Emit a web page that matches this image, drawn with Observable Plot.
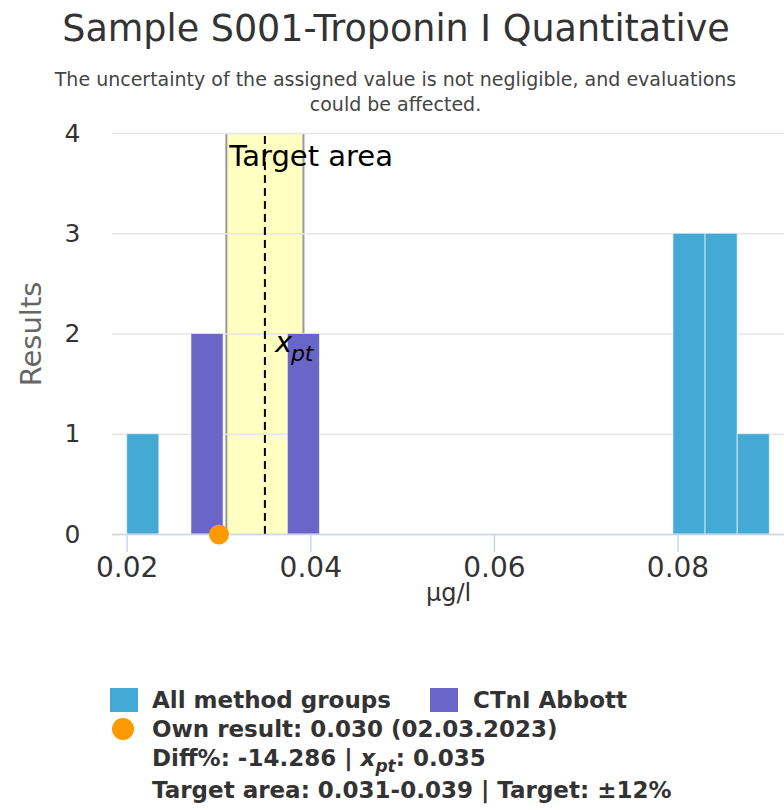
<!DOCTYPE html>
<html>
<head>
<meta charset="utf-8">
<script src="https://cdn.jsdelivr.net/npm/d3@7"></script>
<script src="https://cdn.jsdelivr.net/npm/@observablehq/plot@0.6"></script>
<style>
  body { margin: 0; background: #fff; font-family: "DejaVu Sans", sans-serif; }
  #wrap { position: relative; width: 784px; height: 810px; overflow: hidden; background: #fff; }
  #title { position: absolute; left: 0; top: 11px; width: 792px; text-align: center; font-size: 36.5px; line-height: 36px; color: #333; white-space: nowrap; }
  #subtitle { position: absolute; left: 0; top: 67px; width: 791px; text-align: center; font-size: 19px; line-height: 25px; color: #444; white-space: nowrap; }
  #chart { position: absolute; left: 0; top: 100px; }
  .lg { position: absolute; font-size: 23px; line-height: 23px; font-weight: bold; color: #333; white-space: nowrap; }
  .sw { position: absolute; }
</style>
</head>
<body>
<div id="wrap">
  <div id="title">Sample S001-Troponin I Quantitative</div>
  <div id="subtitle">The uncertainty of the assigned value is not negligible, and evaluations<br>could be affected.</div>
  <div id="chart"></div>
  <div id="legend"></div>
</div>
<script>
// ---- data ----
const allBinStart = [0.0200, 0.0795, 0.0830, 0.0865];
const allBinEnd   = [0.0235, 0.0830, 0.0865, 0.0900];
const allCounts   = [1, 3, 3, 1];

const abbottBinStart = [0.0270, 0.0375];
const abbottBinEnd   = [0.0305, 0.0410];
const abbottCounts   = [2, 2];

const ownResult = 0.030;
const xpt = 0.035;
const targetLow = 0.0308;
const targetHigh = 0.0392;

const xTicks = [0.02, 0.04, 0.06, 0.08];
const yTicks = [0, 1, 2, 3, 4];

const seriesNames = ["All method groups", "CTnI Abbott"];
const seriesColors = ["#45a9d5", "#6a66c8"];
const ownColor = "#ff9900";

// ---- build tables ----
const allBins = allCounts.map((c, i) => ({x1: allBinStart[i], x2: allBinEnd[i], count: c}));
const abbottBins = abbottCounts.map((c, i) => ({x1: abbottBinStart[i], x2: abbottBinEnd[i], count: c}));
const band = [{lo: targetLow, hi: targetHigh}];

const chart = Plot.plot({
  width: 784,
  height: 520,
  marginLeft: 112,
  marginRight: 0,
  marginTop: 33,
  marginBottom: 86,
  style: {fontFamily: '"DejaVu Sans", sans-serif', background: "transparent", overflow: "visible"},
  x: {domain: [0.0184, 0.0916]},
  y: {domain: [0, 4]},
  marks: [
    Plot.rect(band, {x1: "lo", x2: "hi", y1: 0, y2: 4, fill: "#ffffc2"}),
    Plot.ruleX([targetLow, targetHigh], {y1: 0, y2: 4, stroke: "#999", strokeWidth: 2}),
    Plot.gridY(yTicks, {stroke: "#e6e6e6", strokeOpacity: 1, strokeWidth: 1.5}),
    Plot.rect(allBins, {x1: "x1", x2: "x2", y1: 0, y2: "count", fill: seriesColors[0], stroke: "#ffffff", strokeOpacity: 0.6, strokeWidth: 1}),
    Plot.rect(abbottBins, {x1: "x1", x2: "x2", y1: 0, y2: "count", fill: seriesColors[1], stroke: "#ffffff", strokeOpacity: 0.6, strokeWidth: 1}),
    Plot.ruleX([xpt], {y1: 0, y2: 4, stroke: "#000", strokeWidth: 2, strokeDasharray: "8,5"}),
    Plot.ruleY([0], {stroke: "#ccd6eb", strokeWidth: 1.5}),
    Plot.axisX(xTicks, {tickSize: 18, tickPadding: 5, fontSize: 28, stroke: "#ccd6eb", strokeWidth: 1.5, fill: "#333", tickFormat: d => d.toFixed(2), label: null}),
    Plot.axisY(yTicks, {tickSize: 0, tickPadding: 32, fontSize: 25, fill: "#333", tickFormat: d => String(d), label: null}),
    Plot.text(["µg/l"], {frameAnchor: "bottom", dy: 66, fontSize: 24, fill: "#333"}),
    Plot.text(["Results"], {frameAnchor: "left", textAnchor: "middle", rotate: -90, dx: -81, fontSize: 29, fill: "#666"}),
    Plot.text(["Target area"], {x: targetLow, y: 4, textAnchor: "start", dx: 3, dy: 23, fontSize: 29, fill: "#000"}),
    Plot.text(["x"], {x: xpt, y: 2, textAnchor: "start", dx: 10, dy: 9, fontSize: 29, fontStyle: "italic", fill: "#000"}),
    Plot.text(["pt"], {x: xpt, y: 2, textAnchor: "start", dx: 26, dy: 20, fontSize: 22, fontStyle: "italic", fill: "#000"}),
    Plot.dot([ownResult], {x: d => d, y: 0, r: 10, fill: ownColor})
  ]
});
document.getElementById("chart").appendChild(chart);

// ---- legend ----
const legend = document.getElementById("legend");
function add(html, left, top, cls, style) {
  const d = document.createElement("div");
  d.className = cls;
  d.style.left = left + "px";
  d.style.top = top + "px";
  if (style) Object.assign(d.style, style);
  d.innerHTML = html;
  legend.appendChild(d);
}
add("", 110, 688, "sw", {width: "28px", height: "24px", background: seriesColors[0]});
add(seriesNames[0], 152, 689, "lg");
add("", 430, 688, "sw", {width: "28px", height: "24px", background: seriesColors[1]});
add(seriesNames[1], 473, 689, "lg");
add("", 112, 718, "sw", {width: "22px", height: "22px", borderRadius: "50%", background: ownColor});
add("Own result: " + ownResult.toFixed(3) + " (02.03.2023)", 152, 718, "lg");
add("Diff%: -14.286 | <i>x</i><sub style=\"font-size:17px\"><i>pt</i></sub>: " + xpt.toFixed(3), 152, 747, "lg");
add("Target area: 0.031-0.039 | Target: ±12%", 152, 779, "lg");
</script>
</body>
</html>
